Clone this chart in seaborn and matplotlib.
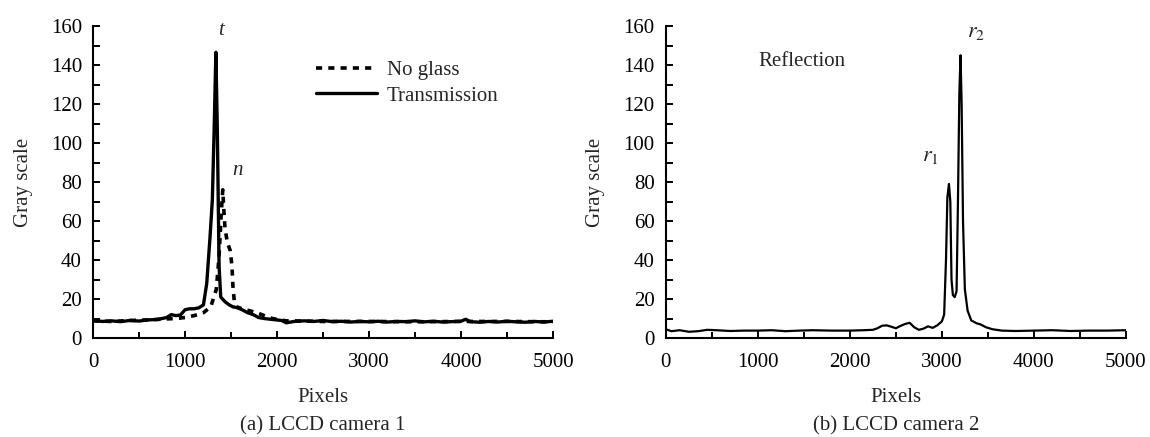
import matplotlib
matplotlib.use("Agg")
import matplotlib.pyplot as plt
import seaborn as sns
import pandas as pd
from matplotlib.ticker import MultipleLocator

# (a) LCCD camera 1 - transmission profile
trans_x = [0, 100, 200, 300, 400, 500, 600, 700, 800, 850, 900, 950, 1000, 1050,
           1100, 1150, 1200, 1236, 1272, 1297, 1319, 1335, 1351, 1370, 1388, 1435,
           1480, 1520, 1570, 1620, 1680, 1740, 1800, 1860, 1950, 2050, 2100, 2200,
           2300, 2400, 2500, 2600, 2700, 2800, 2900, 3000, 3100, 3200, 3300, 3400,
           3500, 3600, 3700, 3800, 3900, 4000, 4050, 4100, 4200, 4300, 4400, 4500,
           4600, 4700, 4800, 4900, 5000]
trans_y = [9.0, 8.5, 8.8, 8.4, 9.0, 8.7, 9.3, 9.5, 10.5, 12.0, 11.5, 11.8, 14.5,
           15.0, 15.0, 15.5, 17.0, 28.0, 52.0, 71.0, 112.0, 146.5, 107.0, 37.0,
           21.0, 18.6, 17.0, 16.0, 15.5, 14.5, 13.0, 12.0, 10.5, 10.0, 9.5, 9.0,
           7.8, 8.6, 8.8, 8.5, 9.0, 8.4, 8.6, 8.2, 8.5, 8.3, 8.6, 8.2, 8.5, 8.4,
           8.8, 8.3, 8.6, 8.2, 8.4, 8.6, 9.6, 8.4, 8.1, 8.5, 8.2, 8.6, 8.3, 8.1,
           8.5, 8.2, 8.6]

# (a) LCCD camera 1 - no glass profile
noglass_x = [0, 200, 400, 600, 800, 900, 1000, 1100, 1200, 1280, 1340, 1370, 1395,
             1410, 1420, 1435, 1460, 1490, 1510, 1520, 1535, 1560, 1620, 1700, 1780,
             1860, 1950, 2100, 2500, 3000, 3500, 4000, 4500, 5000]
noglass_y = [8.8, 8.5, 9.0, 9.3, 9.8, 10.0, 10.5, 11.5, 13.0, 16.0, 25.0, 42.0,
             65.0, 76.0, 67.0, 56.0, 49.0, 45.0, 37.0, 27.0, 19.0, 16.0, 15.0,
             14.0, 13.0, 11.5, 10.0, 8.8, 8.5, 8.5, 8.3, 8.5, 8.5, 8.3]

# (b) LCCD camera 2 - reflection profile
refl_x = [0, 60, 150, 250, 350, 450, 550, 700, 850, 1000, 1150, 1300, 1450, 1600,
          1800, 2000, 2150, 2250, 2300, 2350, 2400, 2450, 2500, 2550, 2600, 2650,
          2700, 2750, 2800, 2850, 2900, 2950, 3000, 3025, 3045, 3060, 3077, 3092,
          3105, 3120, 3140, 3160, 3175, 3190, 3203, 3215, 3230, 3250, 3280, 3320,
          3380, 3420, 3480, 3550, 3650, 3800, 4000, 4200, 4400, 4600, 4800, 5000]
refl_y = [4.5, 3.5, 4.0, 3.2, 3.5, 4.2, 4.0, 3.6, 3.8, 3.8, 4.0, 3.5, 3.8, 4.0,
          3.8, 3.8, 4.0, 4.2, 5.0, 6.3, 6.5, 5.8, 5.0, 6.2, 7.2, 7.8, 5.5, 4.2,
          4.8, 6.0, 5.2, 6.5, 8.5, 12.0, 40.0, 72.0, 79.0, 70.0, 30.0, 22.0,
          21.0, 24.0, 70.0, 125.0, 145.0, 120.0, 60.0, 25.0, 14.0, 9.0, 7.5,
          7.0, 5.5, 4.5, 3.8, 3.6, 3.8, 4.0, 3.6, 3.8, 3.8, 4.0]

sns.set_theme(style="ticks")
plt.rcParams["font.family"] = "Liberation Serif"
plt.rcParams["mathtext.fontset"] = "stix"
plt.rcParams["font.size"] = 15

FS = 15


def style_axes(ax):
    ax.set_xlim(0, 5000)
    ax.set_ylim(0, 160)
    ax.xaxis.set_major_locator(MultipleLocator(1000))
    ax.xaxis.set_minor_locator(MultipleLocator(500))
    ax.yaxis.set_major_locator(MultipleLocator(20))
    ax.yaxis.set_minor_locator(MultipleLocator(10))
    ax.tick_params(which="both", direction="in", width=1.4, colors="black",
                   labelsize=FS)
    ax.tick_params(axis="x", which="major", length=5, pad=11)
    ax.tick_params(axis="x", which="minor", length=4)
    ax.tick_params(axis="y", which="major", length=5, pad=8)
    ax.tick_params(axis="y", which="minor", length=5)
    for side in ["left", "bottom"]:
        ax.spines[side].set_linewidth(1.5)
        ax.spines[side].set_color("black")
    sns.despine(ax=ax)
    ax.set_xlabel("Pixels", fontsize=FS, labelpad=11)
    ax.set_ylabel("Gray scale", fontsize=FS, labelpad=13)


fig = plt.figure(figsize=(11.5, 4.37), dpi=100)
ax1 = fig.add_axes([0.0809, 0.2265, 0.40, 0.714])
ax2 = fig.add_axes([0.579, 0.2265, 0.40, 0.714])

df_ng = pd.DataFrame({"x": noglass_x, "y": noglass_y})
df_tr = pd.DataFrame({"x": trans_x, "y": trans_y})
df_rf = pd.DataFrame({"x": refl_x, "y": refl_y})

sns.lineplot(data=df_ng, x="x", y="y", ax=ax1, color="black", linewidth=2.6,
             linestyle=(0, (1.7, 1.7)), label="No glass")
sns.lineplot(data=df_tr, x="x", y="y", ax=ax1, color="black", linewidth=2.4,
             label="Transmission")
sns.lineplot(data=df_rf, x="x", y="y", ax=ax2, color="black", linewidth=1.6)

style_axes(ax1)
style_axes(ax2)

ax1.legend(loc="upper left", bbox_to_anchor=(0.485, 0.89), frameon=False,
           fontsize=FS, handlelength=2.9, handletextpad=0.5, labelspacing=0.3,
           borderaxespad=0, borderpad=0)
ax1.text(1390, 153, "t", style="italic", fontsize=FS, ha="center", va="bottom")
ax1.text(1565, 81, "n", style="italic", fontsize=FS, ha="center", va="bottom")

ax2.text(1480, 142, "Reflection", fontsize=FS, ha="center", va="center")
ax2.text(2880, 88, "$r_1$", fontsize=16, ha="center", va="bottom")
ax2.text(3370, 152, "$r_2$", fontsize=16, ha="center", va="bottom")

fig.text(0.0809 + 0.20, 0.026, "(a) LCCD camera 1", ha="center", va="center",
         fontsize=FS)
fig.text(0.579 + 0.20, 0.026, "(b) LCCD camera 2", ha="center", va="center",
         fontsize=FS)

fig.savefig("out.png", dpi=100, facecolor="white")
